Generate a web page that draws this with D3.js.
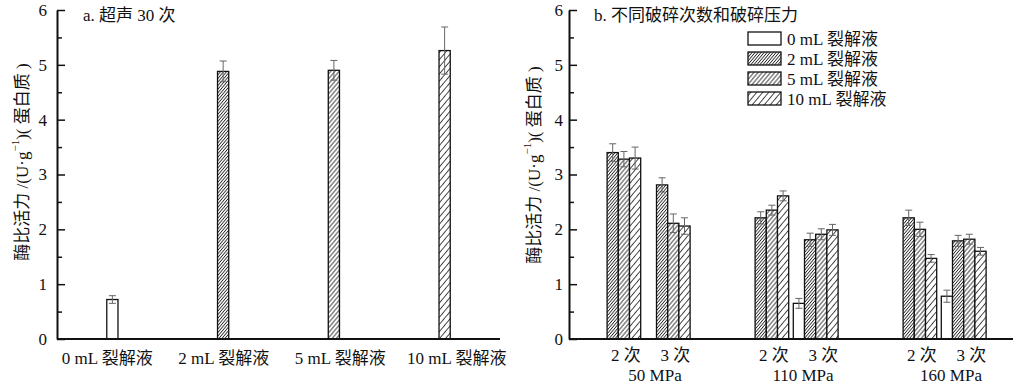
<!DOCTYPE html>
<html>
<head>
<meta charset="utf-8">
<script src="https://cdn.jsdelivr.net/npm/d3@7"></script>
<style>
  body { margin: 0; background: #fff; }
  svg { display: block; }
  text { font-family: "Liberation Serif", "Noto Sans CJK SC", serif; fill: #111; }
</style>
</head>
<body>
<div id="chart"></div>
<script>
// panel a: 30 ultrasound passes
const leftCategories = ["0 mL 裂解液", "2 mL 裂解液", "5 mL 裂解液", "10 mL 裂解液"];
const leftValues = [0.72, 4.88, 4.90, 5.26];
const leftErrors = [0.07, 0.19, 0.18, 0.43];

// panel b: passes x pressure
const pressures = ["50 MPa", "110 MPa", "160 MPa"];
const passes = ["2 次", "3 次"];
const seriesNames = ["0 mL 裂解液", "2 mL 裂解液", "5 mL 裂解液", "10 mL 裂解液"];
// order of each array: 50MPa 2次, 50MPa 3次, 110MPa 2次, 110MPa 3次, 160MPa 2次, 160MPa 3次
const values0 = [null, null, null, 0.65, null, 0.78];
const values2 = [3.40, 2.81, 2.21, 1.81, 2.21, 1.79];
const values5 = [3.28, 2.11, 2.35, 1.91, 2.00, 1.82];
const values10 = [3.30, 2.06, 2.61, 1.99, 1.47, 1.60];
const errors0 = [null, null, null, 0.09, null, 0.11];
const errors2 = [0.16, 0.13, 0.11, 0.12, 0.14, 0.10];
const errors5 = [0.14, 0.17, 0.09, 0.10, 0.13, 0.09];
const errors10 = [0.20, 0.15, 0.09, 0.10, 0.07, 0.07];

const yTicks = [0, 1, 2, 3, 4, 5, 6];
const yMinorTicks = [0.5, 1.5, 2.5, 3.5, 4.5, 5.5];

const largura = 1035, altura = 387;
const svg = d3.select("#chart").append("svg")
    .attr("width", largura).attr("height", altura);

// hatch patterns (2 mL dense -> 10 mL sparse)
const defs = svg.append("defs");
const hatch = [
    {id: "h0", passo: 0},
    {id: "h2", passo: 2.3},
    {id: "h5", passo: 3.2},
    {id: "h10", passo: 4.6}
];
hatch.forEach(h => {
    if (!h.passo) return;
    const p = defs.append("pattern")
        .attr("id", h.id)
        .attr("patternUnits", "userSpaceOnUse")
        .attr("width", h.passo).attr("height", 10)
        .attr("patternTransform", "rotate(40)");
    p.append("rect").attr("width", h.passo).attr("height", 10).attr("fill", "#fff");
    p.append("line")
        .attr("x1", h.passo / 2).attr("x2", h.passo / 2)
        .attr("y1", 0).attr("y2", 10)
        .attr("stroke", "#222").attr("stroke-width", 0.85);
});
const preenchimento = i => i === 0 ? "#fff" : `url(#${hatch[i].id})`;

const y = d3.scaleLinear().domain([0, 6]).range([339, 10]);

function eixoY(g, x0, padding) {
    g.attr("transform", `translate(${x0},0)`);
    g.append("g")
        .call(d3.axisLeft(y).tickValues(yMinorTicks).tickSize(-5).tickSizeOuter(0).tickFormat(""))
        .call(s => s.select(".domain").remove())
        .selectAll("line").attr("stroke", "#111").attr("stroke-width", 1.5);
    const maj = g.append("g")
        .call(d3.axisLeft(y).tickValues(yTicks).tickSize(-8).tickSizeOuter(0).tickPadding(padding).tickFormat(d3.format("d")));
    maj.select(".domain").attr("stroke", "#111").attr("stroke-width", 2);
    maj.selectAll("line").attr("stroke", "#111").attr("stroke-width", 1.5);
    maj.selectAll("text").attr("font-size", 17).attr("font-family", null).attr("fill", "#111");
}

function rotuloY(x, yc) {
    const t = svg.append("text")
        .attr("transform", `translate(${x},${yc}) rotate(-90)`)
        .attr("text-anchor", "middle")
        .attr("dominant-baseline", "central")
        .attr("font-size", 17);
    t.append("tspan").text("酶比活力 /(U·g");
    t.append("tspan").attr("font-size", 11).attr("dy", -7).text("−1");
    t.append("tspan").attr("dy", 7).text(")( 蛋白质 )");
}

function barrasErro(g, dados, cor) {
    const cap = 3.5;
    const e = g.selectAll(".erro").data(dados).join("g").attr("class", "erro")
        .attr("stroke", cor || "#666").attr("stroke-width", 1);
    e.append("line").attr("x1", d => d.cx).attr("x2", d => d.cx)
        .attr("y1", d => y(d.v - d.e)).attr("y2", d => y(d.v + d.e));
    e.append("line").attr("x1", d => d.cx - cap).attr("x2", d => d.cx + cap)
        .attr("y1", d => y(d.v + d.e)).attr("y2", d => y(d.v + d.e));
    e.append("line").attr("x1", d => d.cx - cap).attr("x2", d => d.cx + cap)
        .attr("y1", d => y(d.v - d.e)).attr("y2", d => y(d.v - d.e));
}

// ---------- panel a ----------
const gA = svg.append("g");
const xA = d3.scaleBand().domain(leftCategories).range([57, 500]);
const xLabelA = d3.scaleBand().domain(leftCategories).range([49, 515]);
const larguraBarra = 11.2;

const dadosA = leftCategories.map((c, i) => ({
    i, v: leftValues[i], e: leftErrors[i],
    cx: xA(c) + xA.bandwidth() / 2
}));

gA.selectAll(".bar").data(dadosA).join("rect")
    .attr("x", d => d.cx - larguraBarra / 2)
    .attr("y", d => y(d.v))
    .attr("width", larguraBarra)
    .attr("height", d => y(0) - y(d.v))
    .attr("fill", d => preenchimento(d.i))
    .attr("stroke", "#111").attr("stroke-width", 1.3);
barrasErro(gA, dadosA);

gA.append("line").attr("x1", 57).attr("x2", 500).attr("y1", y(0)).attr("y2", y(0))
    .attr("stroke", "#111").attr("stroke-width", 2);
eixoY(gA.append("g"), 57, 10);

gA.selectAll(".rotx").data(leftCategories).join("text")
    .attr("x", c => xLabelA(c) + xLabelA.bandwidth() / 2)
    .attr("y", 364)
    .attr("text-anchor", "middle")
    .attr("font-size", 17)
    .text(c => c);

svg.append("text").attr("x", 83).attr("y", 21).attr("font-size", 17).text("a. 超声 30 次");
rotuloY(22, 162);

// ---------- panel b ----------
const gB = svg.append("g");
const xB = d3.scaleBand().domain(pressures).range([569, 1013]);
const passoSub = 49.4, larguraSub = 44.8;
const pinner = 1 - larguraSub / passoSub;
const meioB = xB.bandwidth() / 2;
const largSubRange = passoSub * (2 - pinner);
const xSub = d3.scaleBand().domain(passes)
    .range([meioB - largSubRange / 2, meioB + largSubRange / 2])
    .paddingInner(pinner);
const xSerie = d3.scaleBand().domain(seriesNames).range([0, xSub.bandwidth()]);

const valoresB = [values0, values2, values5, values10];
const errosB = [errors0, errors2, errors5, errors10];

const dadosB = [];
pressures.forEach((p, pi) => {
    passes.forEach((ps, si) => {
        const k = pi * passes.length + si;
        seriesNames.forEach((s, i) => {
            const v = valoresB[i][k];
            if (v == null) return;
            const x0 = xB(p) + xSub(ps) + xSerie(s);
            dadosB.push({i, v, e: errosB[i][k], x0, cx: x0 + xSerie.bandwidth() / 2});
        });
    });
});

gB.selectAll(".bar").data(dadosB).join("rect")
    .attr("x", d => d.x0)
    .attr("y", d => y(d.v))
    .attr("width", xSerie.bandwidth())
    .attr("height", d => y(0) - y(d.v))
    .attr("fill", d => preenchimento(d.i))
    .attr("stroke", "#111").attr("stroke-width", 1.3);
barrasErro(gB, dadosB);

gB.append("line").attr("x1", 569).attr("x2", 1013).attr("y1", y(0)).attr("y2", y(0))
    .attr("stroke", "#111").attr("stroke-width", 2);
eixoY(gB.append("g"), 569, 6);

// pass labels, centred on the 5 mL bar
pressures.forEach(p => {
    passes.forEach(ps => {
        gB.append("text")
            .attr("x", xB(p) + xSub(ps) + xSerie("5 mL 裂解液") + xSerie.bandwidth() / 2 + 2)
            .attr("y", 361)
            .attr("text-anchor", "middle")
            .attr("font-size", 17)
            .text(ps);
    });
});
gB.selectAll(".rotp").data(pressures).join("text")
    .attr("x", p => xB(p) + meioB + 12)
    .attr("y", 381)
    .attr("text-anchor", "middle")
    .attr("font-size", 17)
    .text(p => p);

svg.append("text").attr("x", 594).attr("y", 21).attr("font-size", 17).text("b. 不同破碎次数和破碎压力");
rotuloY(534, 165);

// legend
const legenda = svg.append("g").attr("transform", "translate(748,32)");
const itens = legenda.selectAll("g").data(seriesNames).join("g")
    .attr("transform", (d, i) => `translate(0,${i * 20})`);
itens.append("rect")
    .attr("width", 33).attr("height", 13)
    .attr("fill", (d, i) => preenchimento(i))
    .attr("stroke", "#111").attr("stroke-width", 1.3);
itens.append("text")
    .attr("x", 39).attr("y", 12.5)
    .attr("font-size", 17)
    .text(d => d);
</script>
</body>
</html>
